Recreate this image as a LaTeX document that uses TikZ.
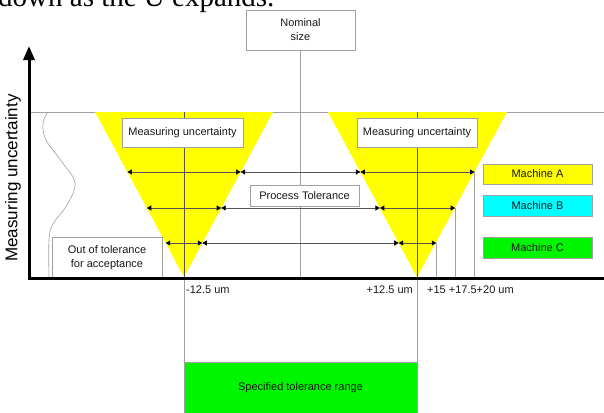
\documentclass[tikz,border=0pt]{standalone}
\usepackage{fontspec}
\setmainfont{Liberation Sans}
\newfontfamily\headface{Liberation Serif}
\usetikzlibrary{arrows.meta}
\definecolor{linegray}{RGB}{160,160,160}
\definecolor{dimgray}{RGB}{85,85,85}
\definecolor{tolyellow}{RGB}{255,255,0}
\definecolor{tolcyan}{RGB}{0,255,255}
\definecolor{tolgreen}{RGB}{0,245,0}
\begin{document}
\begin{tikzpicture}[x=1pt,y=-1pt,
  lbl/.style={font=\fontsize{11}{14}\selectfont, align=center, text=black!90},
  box/.style={draw=linegray, line width=0.8pt, fill=white, lbl, inner sep=0pt},
  guide/.style={draw=linegray, line width=0.7pt},
  dim/.style={draw=dimgray, line width=0.7pt,
    {Triangle[length=4.5pt,width=5pt,black]}-{Triangle[length=4.5pt,width=5pt,black]}},
  tol/.style={fill=tolyellow}
]
\useasboundingbox (0,0) rectangle (604,412);
\clip (0,0) rectangle (604,412);

% running text above the figure
\node[anchor=base west, inner sep=0pt, font=\headface\fontsize{29}{30}\selectfont]
  (head) at (-2,7) {down as the U expands.};

\coordinate (axisy) at (0,278);

% upper reference line
\draw[guide] (30,112) -- (604,112);

% distribution curve
\draw[guide, line width=0.6pt] plot[smooth, tension=0.6] coordinates
  {(48,112) (43,123) (46,140) (62,162) (75,183) (67,205) (53,224) (49,240) (49,278)};

% uncertainty wedges
\fill[tol] (95,112) -- (273,112) -- (184,277) -- cycle;
\fill[tol] (328,112) -- (507,112) -- (417,277) -- cycle;
\draw[dimgray, line width=0.6pt] (184,112) -- (184,277);
\draw[dimgray, line width=0.6pt] (417,112) -- (417,277);
\draw[guide] (184,278) -- (184,362);
\draw[guide] (417,278) -- (417,362);

% nominal size
\node[box, minimum width=109pt, minimum height=40pt] (nominal) at (300.5,30)
  {Nominal\\size};
\draw[guide] (nominal.south) -- (nominal.south |- axisy);

% dimension rows
\coordinate (r1a) at (127.4,172); \coordinate (r1b) at (240.6,172);
\coordinate (r1c) at (360.4,172); \coordinate (r1d) at (474.6,172);
\coordinate (r2a) at (146.8,208); \coordinate (r2b) at (221.2,208);
\coordinate (r2c) at (379.8,208); \coordinate (r2d) at (455.2,208);
\coordinate (r3a) at (165.7,243); \coordinate (r3b) at (202.3,243);
\coordinate (r3c) at (398.7,243); \coordinate (r3d) at (436.3,243);
\foreach \r in {r1,r2,r3}{
  \draw[guide] (\r d) -- (\r d |- axisy);
  \draw[dim] (\r a) -- (\r b);
  \draw[dim] (\r b) -- (\r c);
  \draw[dim] (\r c) -- (\r d);
}

% labels in boxes
\node[box, minimum width=121pt, minimum height=29pt] (muL) at (182.5,132.5)
  {Measuring uncertainty};
\node[box, minimum width=120pt, minimum height=29pt] (muR) at (417,132.5)
  {Measuring uncertainty};
\node[box, minimum width=109pt, minimum height=21pt] (proc) at (304.5,195.5)
  {Process Tolerance};
\node[box, fill=tolyellow, minimum width=109pt, minimum height=20pt] (machA) at (537.5,174)
  {Machine A};
\node[box, fill=tolcyan, minimum width=109pt, minimum height=21pt] (machB) at (537.5,205.5)
  {Machine B};
\node[box, fill=tolgreen, minimum width=109pt, minimum height=21pt] (machC) at (537.5,247.5)
  {Machine C};
\node[box, minimum width=110pt, minimum height=41pt] (oot) at (107,257.5)
  {Out of tolerance\\for acceptance};
\node[box, fill=tolgreen, minimum width=233pt, minimum height=56pt, text depth=0pt]
  (spec) at (300.5,390) {};
\node[lbl] (spectext) at (300.5,388) {Specified tolerance range};

% axes
\draw[line width=3pt] (27.5,278) -- (604,278);
\draw[line width=3pt, -{Triangle[length=14pt,width=11pt]}] (29,279.5) -- (29,46);
\node[rotate=90, inner sep=0pt, font=\fontsize{17}{17}\selectfont] (ylab) at (13,178)
  {Measuring uncertainty};

% tick labels
\node[lbl, inner sep=0pt, anchor=west] (tm) at (186,290) {-12.5 um};
\node[lbl, inner sep=0pt, anchor=east] (tp) at (413,290) {+12.5 um};
\node[lbl, inner sep=0pt, anchor=west] (tx) at (427,290) {+15 +17.5+20 um};
\end{tikzpicture}
\end{document}
